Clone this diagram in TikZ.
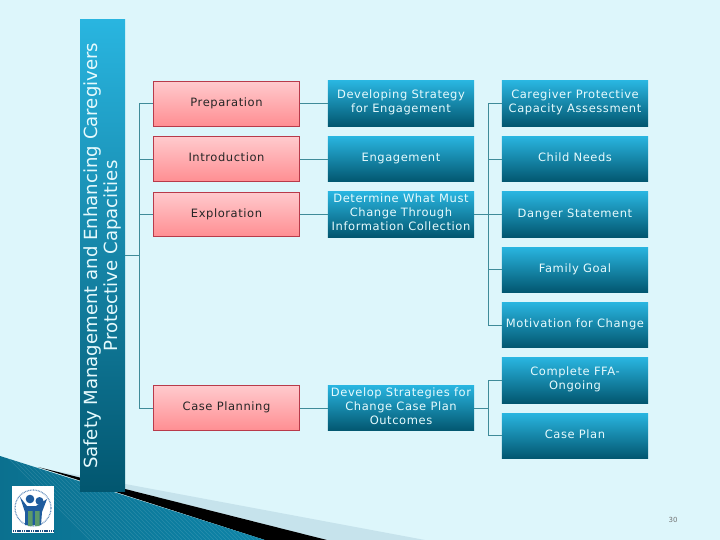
\documentclass[tikz,border=0pt]{standalone}
\usepackage{fontspec}
\setmainfont{DejaVu Sans}
\newfontfamily\boxfont[LetterSpace=5]{DejaVu Sans}
\usepackage{tikz}
\usetikzlibrary{positioning,calc}
\definecolor{SlideBack}{HTML}{DDF6FB}
\definecolor{SlideBand}{HTML}{C6E3EC}
\definecolor{SlideLine}{HTML}{3F8B99}
\definecolor{TealTop}{HTML}{29B5E0}
\definecolor{TealMid}{HTML}{0D84A8}
\definecolor{TealLow}{HTML}{02566F}
\definecolor{TealGlow}{HTML}{4AAECD}
\definecolor{TealText}{HTML}{E6FAFD}
\definecolor{RedTop}{HTML}{FFCACD}
\definecolor{RedLow}{HTML}{FF8E92}
\definecolor{RedEdge}{HTML}{B83A4A}
\definecolor{LogoBlue}{HTML}{1F5C9E}
\definecolor{LogoGreen}{HTML}{5C9A6A}

\begin{document}
\begin{tikzpicture}[x=1pt,y=-1pt,node distance=9.95pt and 27.6pt]
  \tikzset{
    phase/.style={draw=RedEdge,line width=.8pt,top color=RedTop,bottom color=RedLow,text=black!85,
      minimum height=44.6pt,minimum width=146.6pt,inner sep=0pt,align=center,
      font=\boxfont\fontsize{11.5}{14}\selectfont,
      execute at begin node=\strut,execute at end node=\strut},
    task/.style={top color=TealTop,middle color=TealMid,bottom color=TealLow,text=TealText,
      minimum height=45.4pt,minimum width=146.4pt,inner sep=0pt,outer sep=0pt,align=center,
      font=\boxfont\fontsize{11.5}{14}\selectfont,
      execute at begin node=\strut,execute at end node=\strut},
    link/.style={line width=.8pt,draw=SlideLine}
  }
  \useasboundingbox (0,0) rectangle (720,540);
  \fill[SlideBack] (0,0) rectangle (720,540);
  % corner of the slide
  \fill[SlideBand] (45,469) -- (425,540) -- (327,540) -- cycle;
  \fill[black] (38,467) -- (327,540) -- (265,540) -- cycle;
  \shade[left color=TealMid!85!black,middle color=TealGlow,right color=TealMid]
    (0,456) -- (265,540) -- (0,540) -- cycle;
  \begin{scope}
    \clip (0,456) -- (265,540) -- (0,540) -- cycle;
    \foreach \i in {0,4,...,300}
      \draw[white,opacity=.12,line width=.5pt] (\i,450) -- (\i+90,540);
  \end{scope}
  % logo
  \fill[white] (12,486) rectangle (54,533);
  \draw[LogoBlue!70,line width=1.2pt,dash pattern=on .8pt off .8pt] (33,508) circle (18);
  \fill[LogoBlue] (20,497) -- (27,506) -- (36,506) -- (47,499) -- (42,512) -- (41,525) -- (25,525) -- (25,512) -- cycle;
  \fill[LogoBlue] (30,499) circle (4.3) (39.5,501) circle (4);
  \fill[LogoGreen] (28,511) rectangle (32.5,526) (35,511) rectangle (39.5,526);
  \draw[LogoBlue!80!black,line width=2pt,dash pattern=on 1.2pt off .6pt] (13,531) -- (53,531);
  % side title
  \node[rotate=90,top color=TealTop,middle color=TealMid,bottom color=TealLow,text=TealText,minimum width=471.7pt,minimum height=45pt,
    inner sep=0pt,outer sep=0pt,align=center,font=\fontsize{18.1}{20}\selectfont] (sidebar) at (102.5,255.85)
    {Safety Management and Enhancing Caregivers\\Protective Capacities};
  % first column
  \node[phase] (preparation) at (226.5,103.7) {Preparation};
  \node[phase,below=of preparation] (introduction) {Introduction};
  \node[phase,below=of introduction] (exploration) {Exploration};
  % second column
  \node[task,right=of preparation] (developing) {Developing Strategy\\for Engagement};
  \node[task,right=of introduction] (engagement) {Engagement};
  \node[task,right=of exploration] (determine) {Determine What Must\\Change Through\\Information Collection};
  % third column
  \node[task,right=of developing] (caregiver) {Caregiver Protective\\Capacity Assessment};
  \node[task,right=of engagement] (childneeds) {Child Needs};
  \node[task,right=of determine] (danger) {Danger Statement};
  \node[task,below=of danger] (familygoal) {Family Goal};
  \node[task,below=of familygoal] (motivation) {Motivation for Change};
  \node[task,below=of motivation] (complete) {Complete FFA-\\Ongoing};
  \node[task,below=of complete] (caseplan) {Case Plan};
  \node[task,left=of $(complete.west)!.5!(caseplan.west)$,anchor=east] (develop) {Develop Strategies for\\Change Case Plan\\Outcomes};
  \node[phase,left=of develop] (caseplanning) {Case Planning};
  % trunks
  \coordinate (trunka) at (139.3,255.85);
  \coordinate (trunkb) at ($(determine.east)+(13.7,0)$);
  \coordinate (trunkc) at ($(develop.east)+(13.7,0)$);
  \draw[link] (sidebar.south) -- (trunka);
  \foreach \n in {preparation,introduction,exploration,caseplanning}
    \draw[link] (\n.west) -| (trunka);
  \draw[link] (preparation) -- (developing);
  \draw[link] (introduction) -- (engagement);
  \draw[link] (exploration) -- (determine);
  \draw[link] (caseplanning) -- (develop);
  \draw[link] (determine.east) -- (trunkb);
  \foreach \n in {caregiver,childneeds,danger,familygoal,motivation}
    \draw[link] (\n.west) -| (trunkb);
  \draw[link] (develop.east) -- (trunkc);
  \foreach \n in {complete,caseplan}
    \draw[link] (\n.west) -| (trunkc);
  \node[text=black!55,font=\fontsize{7}{8}\selectfont,inner sep=0pt] (pagenum) at (673,519.5) {30};
\end{tikzpicture}
\end{document}
